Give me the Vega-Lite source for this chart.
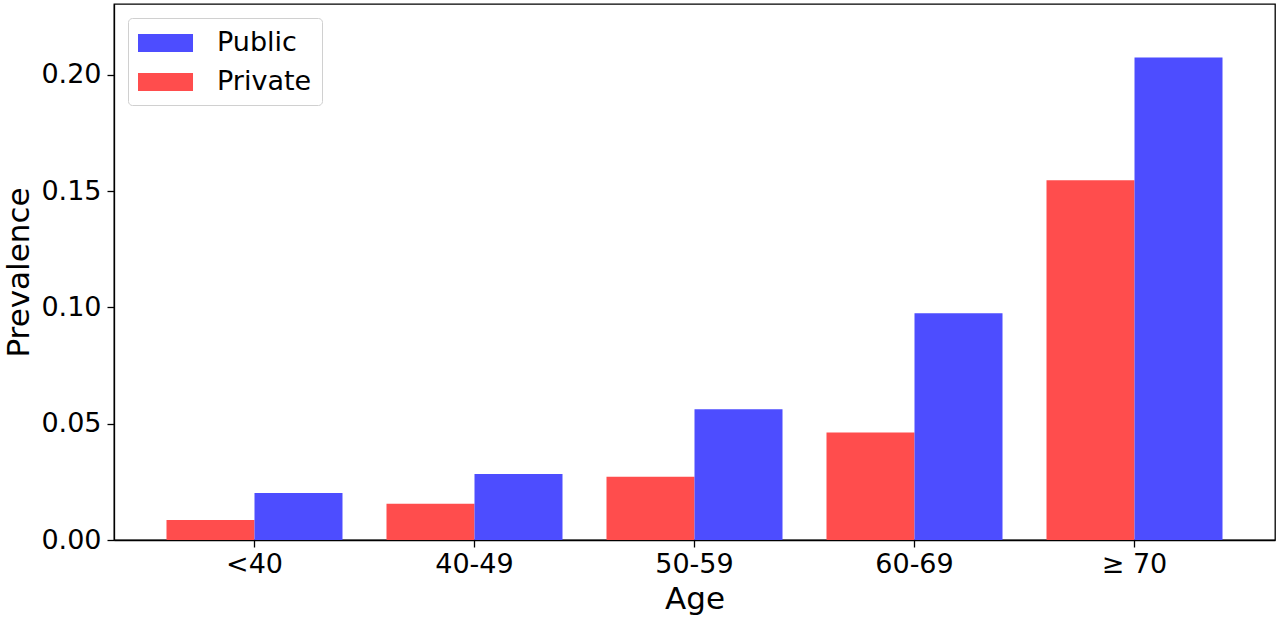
{
  "$schema": "https://vega.github.io/schema/vega-lite/v6.json",
  "description": "Prevalence by age group, public vs private",
  "width": 1161,
  "height": 536,
  "autosize": {"type": "none"},
  "padding": {"left": 114, "top": 4, "right": 5, "bottom": 81},
  "background": "white",
  "data": {
    "values": [
      {"age": "<40", "sector": "Private", "prevalence": 0.0086},
      {"age": "<40", "sector": "Public", "prevalence": 0.0202},
      {"age": "40-49", "sector": "Private", "prevalence": 0.0156},
      {"age": "40-49", "sector": "Public", "prevalence": 0.0284},
      {"age": "50-59", "sector": "Private", "prevalence": 0.0272},
      {"age": "50-59", "sector": "Public", "prevalence": 0.0562},
      {"age": "60-69", "sector": "Private", "prevalence": 0.0462},
      {"age": "60-69", "sector": "Public", "prevalence": 0.0975},
      {"age": "≥ 70", "sector": "Private", "prevalence": 0.1547},
      {"age": "≥ 70", "sector": "Public", "prevalence": 0.2075}
    ]
  },
  "mark": {"type": "bar"},
  "encoding": {
    "x": {
      "field": "age",
      "type": "nominal",
      "sort": ["<40", "40-49", "50-59", "60-69", "≥ 70"],
      "title": "Age",
      "scale": {"paddingInner": 0.2, "paddingOuter": 0.2386},
      "axis": {
        "labelAngle": 0,
        "labelPadding": 4,
        "titlePadding": 7
      }
    },
    "xOffset": {
      "field": "sector",
      "type": "nominal",
      "sort": ["Private", "Public"],
      "scale": {"paddingInner": 0, "paddingOuter": 0}
    },
    "y": {
      "field": "prevalence",
      "type": "quantitative",
      "title": "Prevalence",
      "scale": {"domain": [0, 0.2305], "nice": false},
      "axis": {
        "values": [0, 0.05, 0.1, 0.15, 0.2],
        "format": ".2f",
        "grid": false,
        "labelPadding": 6,
        "titlePadding": 5
      }
    },
    "color": {
      "field": "sector",
      "type": "nominal",
      "scale": {"domain": ["Public", "Private"], "range": ["#4d4dff", "#ff4d4d"]},
      "legend": {
        "title": null,
        "orient": "none",
        "legendX": 14,
        "legendY": 14,
        "symbolType": "M-1,-0.6H2.667V0.6H-1Z",
        "symbolSize": 900,
        "symbolStrokeWidth": 0,
        "symbolOpacity": 1,
        "labelOffset": 49,
        "labelFontSize": 27,
        "labelFont": "DejaVu Sans",
        "labelColor": "black",
        "rowPadding": 11,
        "padding": 10,
        "strokeColor": "#d0d0d0",
        "fillColor": "rgba(255,255,255,0.8)",
        "cornerRadius": 4
      }
    }
  },
  "config": {
    "font": "DejaVu Sans",
    "view": {"stroke": "black", "strokeWidth": 1.3},
    "axis": {
      "domainColor": "black",
      "domainWidth": 1.3,
      "tickColor": "black",
      "tickWidth": 1.3,
      "tickSize": 7,
      "labelFontSize": 27,
      "labelColor": "black",
      "labelFont": "DejaVu Sans",
      "titleFontSize": 31,
      "titleFontWeight": "normal",
      "titleColor": "black",
      "titleFont": "DejaVu Sans"
    }
  }
}
